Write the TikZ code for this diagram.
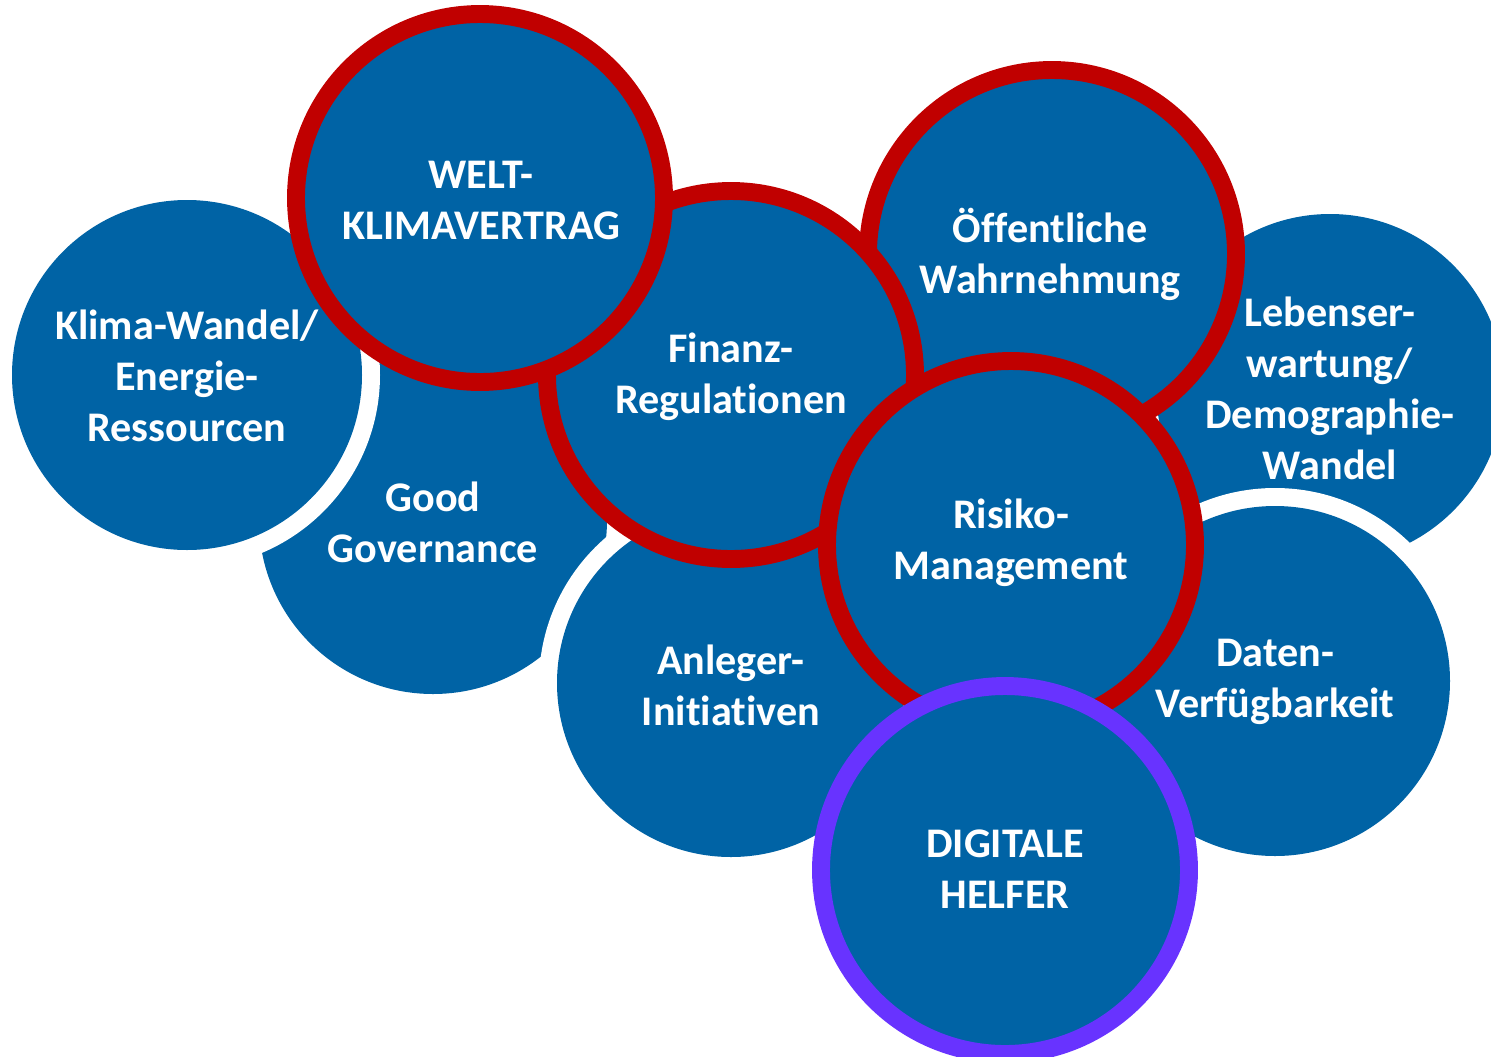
\documentclass[tikz,border=0pt]{standalone}
\usepackage{fontspec}
\setmainfont{Carlito}[Ligatures=NoCommon]
\usepackage{xcolor}
\usepackage{tikz}

\definecolor{kugelblau}{RGB}{0,99,165}
\definecolor{ringrot}{RGB}{192,0,0}
\definecolor{ringlila}{RGB}{104,51,255}

\tikzset{
  kugel/.style={fill=kugelblau},
  halo/.style={fill=white},
  rotring/.style={fill=kugelblau, draw=ringrot, line width=10.2pt},
  lilaring/.style={fill=kugelblau, draw=ringlila, line width=10.2pt},
  schrift/.style={text=white, align=center, font=\fontsize{24}{29}\selectfont\bfseries}
}

\begin{document}
\begin{tikzpicture}[x=0.2mm,y=-0.2mm]
		\tikzstyle{every node}+=[inner sep=0pt]
		\useasboundingbox (0,0) rectangle (1491,1056);
		\clip (0,0) rectangle (1491,1056);
		% hintere Kugeln
		\fill [kugel] (433,520) circle (174);
		\fill [halo] (187,375) circle (193);
		\fill [kugel] (187,375) circle (175);
		\fill [kugel] (1330,388) circle (174);
		\fill [halo] (731,683) circle (192);
		\fill [kugel] (731,683) circle (174);
		\fill [halo] (1275,681) circle (193);
		\fill [kugel] (1275,681) circle (175);
		% Ringe
		\draw [rotring] (1052,254) circle (184);
		\draw [rotring] (731,375) circle (184);
		\draw [rotring] (480,198) circle (184);
		\draw [rotring] (1011,545) circle (184);
		\draw [lilaring] (1005,870) circle (184);
		% Texte
		\node [schrift] (klima) at (187,376) {Klima-Wandel/\\Energie-\\Ressourcen};
		\node [schrift] (governance) at (433,522) {Good\\Governance};
		\node [schrift] (welt) at (481,200) {WELT-\\KLIMAVERTRAG};
		\node [schrift] (finanz) at (731,377) {Finanz-\\Regulationen};
		\node [schrift] (oeffentlich) at (1050,254) {Öffentliche\\Wahrnehmung};
		\node [schrift] (leben) at (1330,388) {Lebenser-\\wartung/\\Demographie-\\Wandel};
		\node [schrift] (anleger) at (731,685) {Anleger-\\Initiativen};
		\node [schrift] (risiko) at (1011,543) {Risiko-\\Management};
		\node [schrift] (daten) at (1275,682) {Daten-\\Verfügbarkeit};
		\node [schrift] (digital) at (1005,869) {DIGITALE\\HELFER};
\end{tikzpicture}
\end{document}
